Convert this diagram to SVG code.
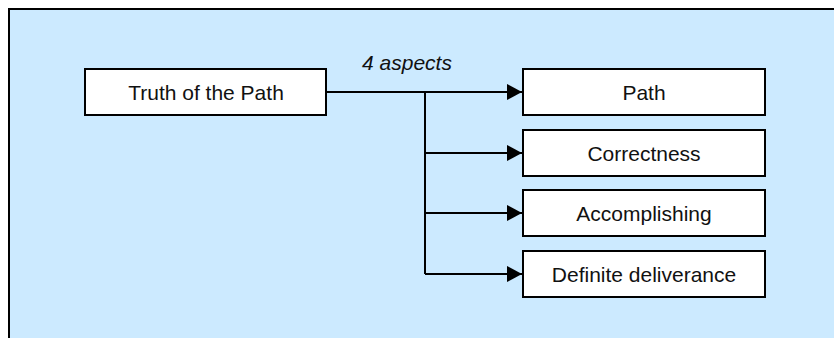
<svg xmlns="http://www.w3.org/2000/svg" width="834" height="338" viewBox="0 0 834 338">
<defs>
<style>
.box{fill:#fff;stroke:#000;stroke-width:2}
.lbl{font-family:"Liberation Sans",Arial,sans-serif;font-size:21px;fill:#111;text-anchor:middle}
.edge{fill:none;stroke:#000;stroke-width:2}
</style>
<marker id="arr" markerUnits="userSpaceOnUse" markerWidth="16" markerHeight="16" refX="15" refY="8" orient="auto">
<path d="M0,0 L15,8 L0,16 Z" fill="#000"/>
</marker>
</defs>
<rect x="0" y="0" width="834" height="338" fill="#fff"/>
<rect x="9" y="9" width="825" height="329" fill="#cceaff"/>
<path d="M9,338 V9 H834" fill="none" stroke="#000" stroke-width="2"/>
<g id="connectors">
<path class="edge" d="M326,92 H522" marker-end="url(#arr)"/>
<path class="edge" d="M425,92 V274"/>
<path class="edge" d="M425,153 H522" marker-end="url(#arr)"/>
<path class="edge" d="M425,213 H522" marker-end="url(#arr)"/>
<path class="edge" d="M425,274 H522" marker-end="url(#arr)"/>
<text x="407" y="70" class="lbl" font-style="italic">4 aspects</text>
</g>
<g id="truth"><rect class="box" x="85" y="69" width="241" height="46"/><text class="lbl" x="206" y="100">Truth of the Path</text></g>
<g id="path"><rect class="box" x="523" y="69" width="242" height="46"/><text class="lbl" x="644" y="100">Path</text></g>
<g id="correctness"><rect class="box" x="523" y="130" width="242" height="46"/><text class="lbl" x="644" y="161">Correctness</text></g>
<g id="accomplishing"><rect class="box" x="523" y="190" width="242" height="46"/><text class="lbl" x="644" y="221">Accomplishing</text></g>
<g id="deliverance"><rect class="box" x="523" y="251" width="242" height="46"/><text class="lbl" x="644" y="282">Definite deliverance</text></g>
</svg>
